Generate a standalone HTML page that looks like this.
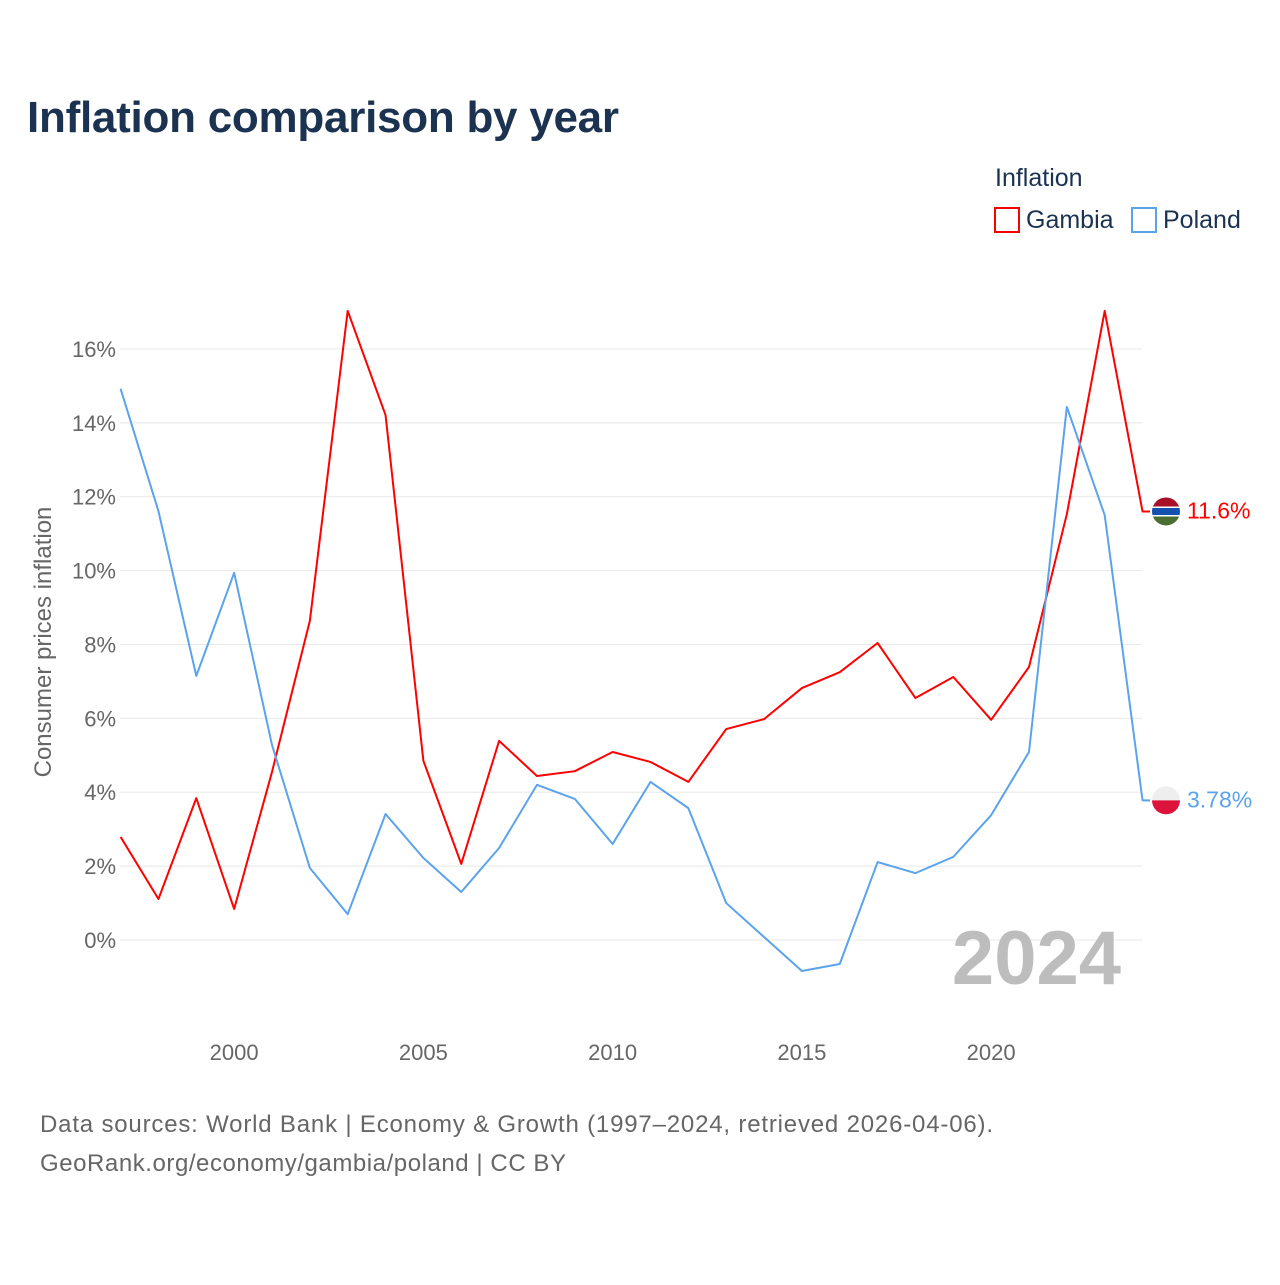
<!DOCTYPE html>
<html><head><meta charset="utf-8"><style>
body{margin:0;background:#fff;width:1280px;height:1280px;overflow:hidden;font-family:"Liberation Sans",sans-serif}
</style></head><body>
<svg width="1280" height="1280" xmlns="http://www.w3.org/2000/svg" font-family="Liberation Sans, sans-serif">
<text x="27" y="132" font-size="44" font-weight="bold" fill="#1b3250" textLength="592">Inflation comparison by year</text>
<text x="995" y="186" font-size="25" fill="#1b3250">Inflation</text>
<g><rect x="995" y="208" width="24" height="24" fill="none" stroke="#ff0000" stroke-width="2"/><text x="1026" y="228" font-size="25" fill="#1b3250">Gambia</text></g>
<g><rect x="1132" y="208" width="24" height="24" fill="none" stroke="#5ba3ec" stroke-width="2"/><text x="1163" y="228" font-size="25" fill="#1b3250">Poland</text></g>
<g id="grid"></g>
<g id="yticks"></g>
<g id="xticks"></g>
<text transform="translate(51,642) rotate(-90)" text-anchor="middle" font-size="24" fill="#666">Consumer prices inflation</text>
<text x="1121" y="984" text-anchor="end" font-size="76" font-weight="bold" fill="#bdbdbd">2024</text>
<g id="series"></g>
<text x="40" y="1132" font-size="24" fill="#666" textLength="953">Data sources: World Bank | Economy &amp; Growth (1997–2024, retrieved 2026-04-06).</text>
<text x="40" y="1171" font-size="24" fill="#666" textLength="526">GeoRank.org/economy/gambia/poland | CC BY</text>
</svg>
<script>
const years=[1997,1998,1999,2000,2001,2002,2003,2004,2005,2006,2007,2008,2009,2010,2011,2012,2013,2014,2015,2016,2017,2018,2019,2020,2021,2022,2023,2024];
const gambia=[2.79,1.11,3.84,0.84,4.55,8.64,17.03,14.21,4.85,2.06,5.39,4.44,4.57,5.09,4.82,4.28,5.71,5.98,6.82,7.25,8.04,6.55,7.12,5.96,7.39,11.53,17.03,11.6];
const poland=[14.92,11.61,7.15,9.94,5.28,1.95,0.70,3.41,2.22,1.30,2.49,4.20,3.82,2.60,4.28,3.57,1.0,0.08,-0.84,-0.65,2.11,1.81,2.25,3.38,5.09,14.43,11.5,3.78];
const yTicks=[0,2,4,6,8,10,12,14,16];
const xTicks=[2000,2005,2010,2015,2020];
const NS="http://www.w3.org/2000/svg";
const X=y=>120.6+(y-1997)*37.85;
const Y=v=>940-v*36.94;
function mk(t,a,p){const e=document.createElementNS(NS,t);for(const k in a)e.setAttribute(k,a[k]);p.appendChild(e);return e;}
const grid=document.getElementById('grid'),yt=document.getElementById('yticks'),xt=document.getElementById('xticks'),s=document.getElementById('series');
yTicks.forEach(v=>{
 const l=mk('line',{x1:120,x2:1142,y1:Y(v),y2:Y(v),stroke:'#e8e8e8','stroke-width':1},grid);
 
 
 const t=mk('text',{x:116,y:Y(v)+8,'text-anchor':'end','font-size':22,fill:'#666'},yt);t.textContent=v+'%';
 
 
});
xTicks.forEach(v=>{
 const t=mk('text',{x:X(v),y:1060,'text-anchor':'middle','font-size':22,fill:'#666'},xt);t.textContent=v;
 
 
});
function line(vals,color,name,label){
 let d=vals.map((v,i)=>(i?'L':'M')+X(years[i])+','+Y(v)).join(' ');
 const last=vals[vals.length-1];
 d+=' L1150,'+Y(last);
 const p=mk('path',{d:d,fill:'none',stroke:color,'stroke-width':2,'stroke-linejoin':'round'},s);
 
 
 const t=mk('text',{x:1187,y:Y(last)+7,'font-size':23,fill:color},s);t.textContent=label;
 
 
 return Y(last);
}
const gy=line(gambia,'#ff0000','gambia','11.6%');
const py=line(poland,'#5ba3ec','poland','3.78%');
const fg=mk('g',{},s);


mk('clipPath',{id:'cg'},fg);mk('circle',{cx:1166,cy:gy,r:14},fg.lastChild);
const gg=mk('g',{'clip-path':'url(#cg)'},fg);
mk('rect',{x:1152,y:gy-14,width:28,height:10,fill:'#a8102a'},gg);
mk('rect',{x:1152,y:gy-4,width:28,height:8,fill:'#1450b0'},gg);
mk('rect',{x:1152,y:gy-5,width:28,height:1.5,fill:'#fff'},gg);
mk('rect',{x:1152,y:gy+3.5,width:28,height:1.5,fill:'#fff'},gg);
mk('rect',{x:1152,y:gy+5,width:28,height:10,fill:'#4a6e32'},gg);
const fp=mk('g',{},s);


mk('clipPath',{id:'cp'},fp);mk('circle',{cx:1166,cy:py,r:14},fp.lastChild);
const pg=mk('g',{'clip-path':'url(#cp)'},fp);
mk('rect',{x:1152,y:py-14,width:28,height:14,fill:'#eeeeee'},pg);
mk('rect',{x:1152,y:py,width:28,height:14,fill:'#dc143c'},pg);
</script>
</body></html>
